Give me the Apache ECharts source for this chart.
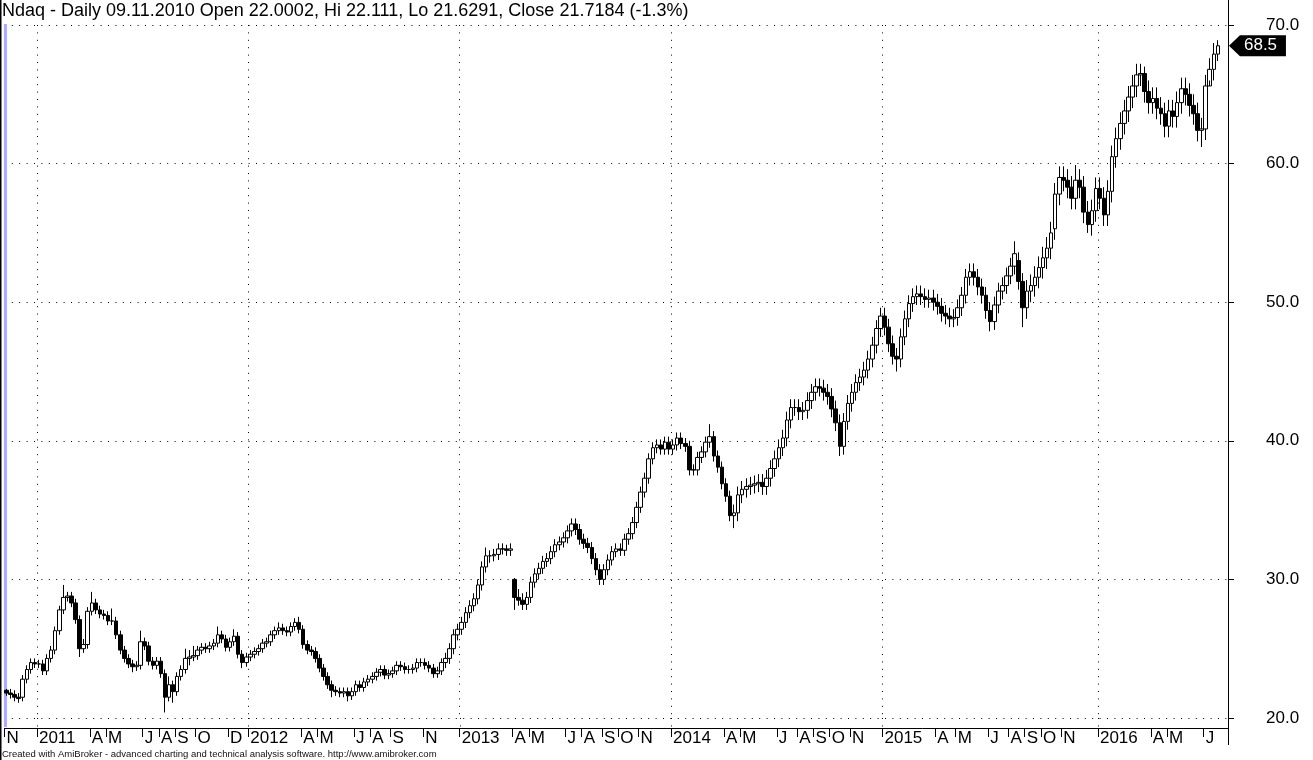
<!DOCTYPE html>
<html>
<head>
<meta charset="utf-8">
<script src="https://cdn.jsdelivr.net/npm/echarts@6/dist/echarts.min.js"></script>
<style>
html,body{margin:0;padding:0;background:#fff;}
#c{width:1313px;height:760px;}
</style>
</head>
<body>
<div id="c"></div>
<script>
// ---- DATA (weekly bars, week starting Mondays from 2010-11-08) ----
const firstWeek = '2010-11-08';
const weekCount = 301; // 299 weeks of data + 2 empty slots at the right edge

const opens = [
22.0,21.8,21.7,21.5,21.5,22.8,23.5,24.0,23.9,23.9,
23.4,24.3,24.9,26.3,27.8,28.7,28.8,28.3,27.1,25.0,
25.3,27.7,28.3,27.8,27.5,27.4,27.0,27.0,26.0,24.9,
24.3,23.9,23.7,23.8,25.5,25.2,24.1,23.8,24.1,23.2,
21.5,22.4,21.9,23.0,23.5,24.3,24.4,24.5,24.9,25.1,
25.0,25.2,25.4,26.0,25.7,25.1,25.5,25.9,24.6,24.0,
24.4,24.6,24.8,25.0,25.4,25.5,26.0,26.3,26.5,26.3,
26.2,26.6,26.9,26.4,25.3,24.9,24.8,24.3,23.6,23.0,
22.4,22.0,21.9,21.8,21.9,21.6,21.9,22.4,22.2,22.6,
22.8,23.0,23.3,23.5,23.1,23.2,23.4,23.8,23.7,23.5,
23.5,23.6,24.0,24.0,23.8,23.6,23.2,23.4,24.0,24.3,
25.0,26.0,26.4,26.9,27.6,28.1,28.6,29.6,30.9,31.7,
31.7,31.8,32.2,32.2,32.1,30.0,28.7,28.5,28.2,28.7,
29.8,30.4,30.8,31.3,31.5,32.0,32.5,32.7,33.0,33.5,
34.0,33.6,32.9,32.6,32.3,31.5,30.7,30.0,30.7,31.4,
32.0,32.2,32.1,32.9,33.3,34.1,35.2,36.3,37.3,38.7,
39.5,39.7,39.4,39.9,39.4,39.7,40.2,39.8,39.6,37.9,
37.9,38.8,39.2,39.9,40.3,38.9,38.1,36.9,36.0,34.6,
34.8,36.1,36.5,36.7,36.8,36.9,37.0,36.7,37.3,38.0,
38.7,39.5,40.2,41.5,42.4,42.4,42.1,42.2,42.9,43.5,
43.9,43.8,43.5,43.2,42.3,41.3,39.6,41.4,42.7,43.5,
44.2,44.6,45.1,45.9,46.9,48.1,49.0,48.2,47.0,46.1,
45.9,47.5,48.8,49.9,50.4,50.6,50.4,50.2,50.3,50.0,
49.7,49.2,49.0,48.8,48.9,49.6,50.5,51.8,52.2,51.8,
51.1,50.5,49.4,48.6,49.8,50.8,51.2,51.9,52.6,53.0,
51.5,49.6,50.8,51.2,51.8,52.5,53.2,53.9,55.3,57.8,
59.0,58.8,58.3,57.5,58.8,58.3,56.5,55.6,56.6,58.2,
57.5,56.3,58.0,60.5,61.8,62.9,63.8,64.8,65.6,66.4,
66.5,65.2,64.4,64.7,64.0,63.6,62.7,63.8,63.4,64.4,
65.4,65.0,64.2,63.6,62.4,62.5,65.6,66.8,67.9
];
const closes = [
21.8,21.7,21.5,21.4,22.8,23.5,24.0,23.9,23.9,23.4,
24.3,24.9,26.3,27.8,28.7,28.8,28.3,27.1,25.0,25.3,
27.7,28.3,27.8,27.5,27.4,27.0,27.0,26.0,24.9,24.3,
23.9,23.7,23.8,25.5,25.2,24.1,23.8,24.1,23.2,21.5,
22.4,21.9,23.0,23.5,24.3,24.4,24.5,24.9,25.1,25.0,
25.2,25.4,26.0,25.7,25.1,25.5,25.9,24.6,24.0,24.4,
24.6,24.8,25.0,25.4,25.5,26.0,26.3,26.5,26.3,26.2,
26.6,26.9,26.4,25.3,24.9,24.8,24.3,23.6,23.0,22.4,
22.0,21.9,21.8,21.9,21.6,21.9,22.4,22.2,22.6,22.8,
23.0,23.3,23.5,23.1,23.2,23.4,23.8,23.7,23.5,23.5,
23.6,24.0,24.0,23.8,23.6,23.2,23.4,24.0,24.3,25.0,
26.0,26.4,26.9,27.6,28.1,28.6,29.6,30.9,31.7,31.7,
31.8,32.2,32.2,32.1,32.2,28.7,28.5,28.2,28.7,29.8,
30.4,30.8,31.3,31.5,32.0,32.5,32.7,33.0,33.5,34.0,
33.6,32.9,32.6,32.3,31.5,30.7,30.0,30.7,31.4,32.0,
32.2,32.1,32.9,33.3,34.1,35.2,36.3,37.3,38.7,39.5,
39.7,39.4,39.9,39.4,39.7,40.2,39.8,39.6,37.9,37.9,
38.8,39.2,39.9,40.3,38.9,38.1,36.9,36.0,34.6,34.8,
36.1,36.5,36.7,36.8,36.9,37.0,36.7,37.3,38.0,38.7,
39.5,40.2,41.5,42.4,42.4,42.1,42.2,42.9,43.5,43.9,
43.8,43.5,43.2,42.3,41.3,39.6,41.4,42.7,43.5,44.2,
44.6,45.1,45.9,46.9,48.1,49.0,48.2,47.0,46.1,45.9,
47.5,48.8,49.9,50.4,50.6,50.4,50.2,50.3,50.0,49.7,
49.2,49.0,48.8,48.9,49.6,50.5,51.8,52.2,51.8,51.1,
50.5,49.4,48.6,49.8,50.8,51.2,51.9,52.6,53.5,51.5,
49.6,50.8,51.2,51.8,52.5,53.2,53.9,55.0,57.8,59.0,
58.8,58.3,57.5,58.8,58.3,56.5,55.6,56.6,58.2,57.5,
56.3,58.0,60.5,61.8,62.9,63.8,64.8,65.6,66.4,66.5,
65.2,64.4,64.7,64.0,63.6,62.7,63.8,63.4,64.4,65.4,
65.0,64.2,63.6,62.4,62.5,65.6,66.8,67.9,68.5
];
const highs = [
22.1,22.1,22.0,21.8,23.1,23.8,24.3,24.3,24.2,24.2,
24.6,25.2,26.6,28.1,29.6,29.1,29.1,28.6,27.4,25.7,
28.0,29.1,28.6,28.1,27.8,27.7,27.9,27.3,26.3,25.2,
24.6,24.2,24.1,26.3,25.8,25.5,24.4,24.4,24.4,23.5,
23.0,22.7,23.3,23.8,25.0,24.9,25.2,25.2,25.4,25.4,
25.5,25.7,26.6,26.3,26.0,25.8,26.4,26.2,24.9,24.7,
24.9,25.1,25.3,25.7,25.8,26.3,26.6,26.9,26.8,26.6,
26.9,27.2,27.3,26.7,25.6,25.2,25.1,24.6,23.9,23.3,
22.7,22.3,22.2,22.2,22.2,22.2,22.7,22.7,22.9,23.1,
23.3,23.6,23.8,23.8,23.5,23.7,24.1,24.1,24.0,23.8,
23.9,24.3,24.3,24.3,24.1,23.9,23.7,24.3,24.7,25.4,
26.4,26.8,27.3,28.0,28.5,29.0,30.0,31.3,32.3,32.1,
32.2,32.6,32.6,32.5,32.6,30.1,29.3,29.0,29.1,30.2,
30.8,31.2,31.7,31.9,32.4,32.9,33.1,33.4,33.9,34.4,
34.4,34.0,33.3,33.0,32.7,31.9,31.1,31.1,31.8,32.4,
32.6,32.6,33.3,33.7,34.5,35.6,36.7,37.7,39.1,39.9,
40.1,40.1,40.3,40.3,40.1,40.6,40.6,40.2,40.0,38.3,
39.2,39.6,40.3,41.2,40.7,39.3,38.5,37.3,36.4,35.4,
36.7,37.1,37.3,37.4,37.5,37.6,37.6,37.9,38.6,39.3,
40.1,40.8,42.1,43.0,43.0,43.0,42.8,43.5,44.1,44.5,
44.5,44.4,44.1,43.8,42.9,41.9,42.0,43.3,44.1,44.8,
45.2,45.7,46.5,47.5,48.7,49.6,49.6,48.8,47.6,46.7,
48.1,49.4,50.5,51.0,51.2,51.2,51.0,50.9,50.9,50.6,
50.3,49.8,49.6,49.5,50.2,51.1,52.4,52.8,52.8,52.4,
51.7,51.1,50.0,50.4,51.4,51.8,52.5,53.2,54.4,53.6,
52.1,51.6,52.0,52.6,53.3,54.0,54.7,55.8,58.6,59.8,
59.8,59.6,59.1,59.9,59.6,59.1,57.3,57.4,59.0,59.0,
58.3,58.8,61.3,62.6,63.7,64.6,65.6,66.4,67.2,67.2,
67.0,66.0,65.5,65.5,64.8,64.4,64.6,64.6,65.2,66.2,
66.2,65.8,65.0,64.4,63.3,66.4,67.6,68.7,68.9
];
const lows = [
21.6,21.4,21.2,21.1,21.2,22.5,23.2,23.6,23.6,23.1,
23.1,24.0,24.6,26.0,27.5,28.4,28.0,26.8,24.4,24.7,
25.0,27.4,27.5,27.2,27.1,26.7,26.7,25.7,24.6,24.0,
23.6,23.3,23.4,23.5,24.9,23.8,23.5,23.5,22.9,20.4,
21.2,21.1,21.6,22.7,23.2,23.8,24.1,24.2,24.6,24.7,
24.7,24.9,25.1,25.4,24.8,24.8,25.2,24.3,23.6,23.7,
24.1,24.3,24.5,24.7,25.1,25.2,25.7,26.0,26.0,25.9,
25.9,26.3,26.1,25.0,24.6,24.5,24.0,23.3,22.7,22.1,
21.5,21.6,21.5,21.5,21.2,21.3,21.6,21.9,21.9,22.3,
22.5,22.7,23.0,22.8,22.8,22.9,23.1,23.4,23.2,23.2,
23.2,23.3,23.7,23.5,23.3,22.9,22.9,23.1,23.6,23.9,
24.6,25.6,26.0,26.5,27.2,27.7,28.2,29.2,30.5,31.2,
31.3,31.4,31.8,31.7,31.7,27.8,28.1,27.8,27.8,28.3,
29.4,30.0,30.4,30.9,31.1,31.6,32.1,32.3,32.6,33.1,
33.2,32.5,32.2,31.9,31.1,30.3,29.6,29.6,30.3,31.0,
31.6,31.7,31.7,32.5,32.9,33.7,34.8,35.9,36.9,38.3,
39.1,39.0,39.0,39.0,39.0,39.3,39.4,39.2,37.5,37.5,
37.5,38.4,38.8,39.5,38.5,37.7,36.5,35.6,34.2,33.7,
34.2,35.5,35.9,36.1,36.2,36.3,36.1,36.1,36.7,37.4,
38.1,38.9,39.6,40.9,41.8,41.5,41.5,41.6,42.3,42.9,
43.2,42.9,42.6,41.7,40.7,38.9,39.0,40.8,42.1,42.9,
43.6,44.0,44.5,45.3,46.3,47.5,47.6,46.4,45.5,45.0,
45.3,46.9,48.2,49.3,49.8,49.8,49.6,49.6,49.4,49.1,
48.6,48.4,48.2,48.2,48.3,49.0,49.9,51.2,51.2,50.5,
49.9,48.8,47.9,48.0,49.2,50.2,50.6,51.3,52.0,50.9,
48.2,48.8,50.0,50.4,51.0,51.7,52.4,53.1,54.5,57.0,
58.0,57.5,56.7,56.7,57.5,55.7,55.0,54.8,55.8,56.7,
55.5,55.5,57.2,59.7,61.0,62.1,63.0,64.0,64.8,65.6,
64.4,63.6,63.6,63.2,62.8,61.9,61.9,62.6,62.6,63.6,
64.2,63.4,62.8,61.6,61.2,61.7,66.0,66.0,67.4
];

// Month tick labels shown on the date axis (month key -> label)
const monthLabels = [
['2010-11','N'],
['2011-01','2011'],['2011-04','A'],['2011-05','M'],['2011-07','J'],['2011-08','A'],['2011-09','S'],['2011-10','O'],['2011-12','D'],
['2012-01','2012'],['2012-04','A'],['2012-05','M'],['2012-07','J'],['2012-08','A'],['2012-09','S'],['2012-11','N'],
['2013-01','2013'],['2013-04','A'],['2013-05','M'],['2013-07','J'],['2013-08','A'],['2013-09','S'],['2013-10','O'],['2013-11','N'],
['2014-01','2014'],['2014-04','A'],['2014-05','M'],['2014-07','J'],['2014-08','A'],['2014-09','S'],['2014-10','O'],['2014-11','N'],
['2015-01','2015'],['2015-04','A'],['2015-05','M'],['2015-07','J'],['2015-08','A'],['2015-09','S'],['2015-10','O'],['2015-11','N'],
['2016-01','2016'],['2016-04','A'],['2016-05','M'],['2016-07','J']
];
const yTicks = { min: 20, max: 70, step: 10 };
const titleText = 'Ndaq - Daily 09.11.2010 Open 22.0002, Hi 22.111, Lo 21.6291, Close 21.7184 (-1.3%)';
const footerText = 'Created with AmiBroker - advanced charting and technical analysis software. http://www.amibroker.com';

// ---- build categories ----
const DAY = 86400000;
const t0 = Date.parse(firstWeek + 'T00:00:00Z');
const categories = [];
const monthKey = [];
for (let i = 0; i < weekCount; i++) {
  categories.push(new Date(t0 + i * 7 * DAY).toISOString().slice(0, 10));
  monthKey.push(new Date(t0 + (i * 7 + 3) * DAY).toISOString().slice(0, 7));
}
const labelMap = {};
monthLabels.forEach(p => { labelMap[p[0]] = p[1]; });
const labelAt = {};
for (let i = 0; i < weekCount; i++) {
  const k = monthKey[i];
  if ((i === 0 || k !== monthKey[i - 1]) && labelMap[k] !== undefined) labelAt[i] = labelMap[k];
}
const isLabel = (idx) => labelAt[idx] !== undefined;
const isYear = (idx) => labelAt[idx] !== undefined && labelAt[idx].length === 4;

const ohlc = closes.map((c, i) => [opens[i], c, lows[i], highs[i]]);

const FONT = '"Liberation Sans", Arial, sans-serif';
const dotted = { color: '#000', width: 1, type: [1, 6.4] };

const chart = echarts.init(document.getElementById('c'), null, { renderer: 'canvas' });
chart.setOption({
  animation: false,
  backgroundColor: '#fff',
  title: {
    text: titleText, left: 2, top: 2, padding: 0,
    textStyle: { fontSize: 18, fontWeight: 'normal', color: '#000', fontFamily: FONT }
  },
  grid: { left: 4.4, right: 85, top: 25, bottom: 42, containLabel: false },
  xAxis: {
    type: 'category',
    data: categories,
    boundaryGap: true,
    offset: 10,
    axisLine: { show: true, lineStyle: { color: '#000', width: 1 } },
    axisTick: { show: true, interval: isLabel, length: 9, lineStyle: { color: '#000' } },
    axisLabel: {
      interval: isLabel,
      formatter: (v, idx) => labelAt[idx] || '',
      align: 'left', margin: 2, fontSize: 17, color: '#000', fontFamily: FONT
    },
    splitLine: { show: true, interval: isYear, lineStyle: dotted }
  },
  yAxis: {
    type: 'value', position: 'right',
    min: yTicks.min, max: yTicks.max, interval: yTicks.step,
    axisLine: { show: true, lineStyle: { color: '#000' } },
    axisTick: { show: true, length: 6, lineStyle: { color: '#000' } },
    axisLabel: { formatter: v => v.toFixed(1), margin: 38, fontSize: 17, color: '#000', fontFamily: FONT },
    splitLine: { show: true, lineStyle: dotted }
  },
  series: [{
    type: 'candlestick',
    data: ohlc,
    barWidth: 4,
    itemStyle: { color: '#ffffff', color0: '#000000', borderColor: '#000000', borderColor0: '#000000', borderWidth: 1 }
  }]
});

// overlays positioned through the chart's own scales
const last = closes[closes.length - 1];
const yc = chart.convertToPixel({ yAxisIndex: 0 }, last);
const xr = chart.convertToPixel({ xAxisIndex: 0 }, categories[categories.length - 1]) + 2;
const x0 = chart.convertToPixel({ xAxisIndex: 0 }, categories[0]);
const yTop = chart.convertToPixel({ yAxisIndex: 0 }, yTicks.max);
const yBot = chart.convertToPixel({ yAxisIndex: 0 }, yTicks.min);
const yearLines = Object.keys(labelAt).filter(k => isYear(+k)).map(k => {
  const xx = Math.round(chart.convertToPixel({ xAxisIndex: 0 }, categories[+k]) - 2.035) + 0.5;
  return { type: 'line', shape: { x1: xx, y1: yBot, x2: xx, y2: yBot + 10 }, style: { stroke: '#000', lineWidth: 1, lineDash: [1, 6.4] }, silent: true };
});
chart.setOption({
  graphic: [
    { type: 'rect', shape: { x: 0, y: 0, width: 1.5, height: 760 }, style: { fill: '#000' }, silent: true },
    { type: 'rect', shape: { x: x0 - 2.5, y: yTop - 1, width: 3, height: yBot - yTop + 10 }, style: { fill: '#aaaaff' }, silent: true },
    { type: 'line', shape: { x1: Math.round(xr) + 0.5, y1: 0, x2: Math.round(xr) + 0.5, y2: 745 }, style: { stroke: '#000', lineWidth: 1 }, silent: true },
    { type: 'polygon', shape: { points: [[xr + 1, yc], [xr + 12, yc - 10.5], [xr + 58, yc - 10.5], [xr + 58, yc + 10.5], [xr + 12, yc + 10.5]] }, style: { fill: '#000' }, silent: true },
    { type: 'text', x: xr + 16, y: yc, style: { text: last.toFixed(1), fill: '#fff', font: '17px ' + FONT, verticalAlign: 'middle', align: 'left' }, silent: true },
    { type: 'text', x: 2, y: 754, style: { text: footerText, fill: '#111', font: '9.5px ' + FONT, verticalAlign: 'middle', align: 'left' }, silent: true }
  ].concat(yearLines)
});
</script>
</body>
</html>
